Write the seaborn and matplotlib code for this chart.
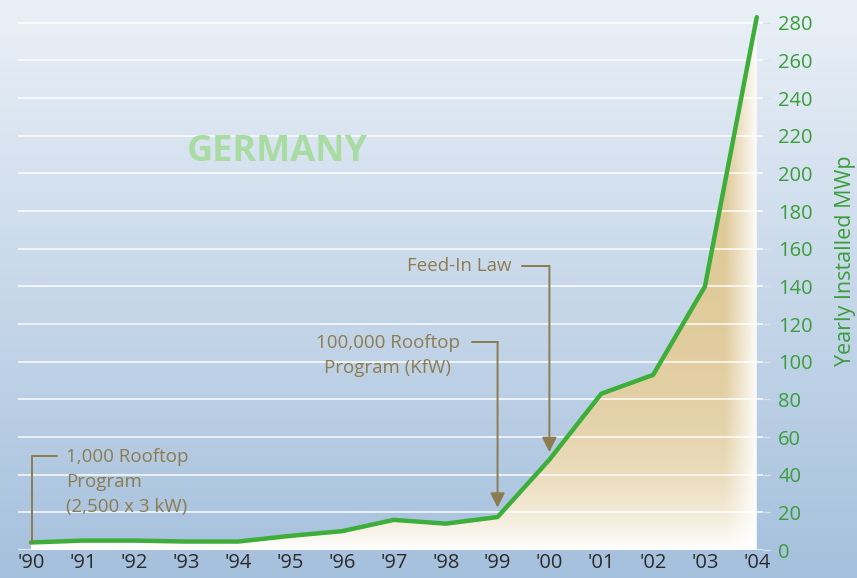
import numpy as np
import pandas as pd
import matplotlib
matplotlib.use("Agg")
import matplotlib.pyplot as plt
from matplotlib.colors import to_rgb
import seaborn as sns

# yearly installed PV capacity in Germany (MWp)
years = ["'90", "'91", "'92", "'93", "'94", "'95", "'96", "'97",
         "'98", "'99", "'00", "'01", "'02", "'03", "'04"]
installed_mwp = [4, 5, 5, 4.5, 4.5, 7.5, 10, 16, 14, 17.5, 48, 83, 93, 140, 283]
y_ticks = list(range(0, 281, 20))

GREEN = "#3dae3a"
LABEL_GREEN = "#3a9e3a"
BROWN = "#8c7c50"
TAN = "#dfc998"

sns.set_theme(style="white")
plt.rcParams["font.family"] = ["Open Sans", "DejaVu Sans"]

df = pd.DataFrame({"idx": np.arange(len(years)), "mwp": installed_mwp})

fig = plt.figure(figsize=(8.57, 5.78), dpi=100)

# background gradient over the whole figure
bg = fig.add_axes([0, 0, 1, 1], zorder=-10)
top, bot = np.array(to_rgb("#eaf0f7")), np.array(to_rgb("#a5c0dd"))
t = np.linspace(0, 1, 256)[:, None]
grad = top * (1 - t[..., None]) + bot * t[..., None]
bg.imshow(np.repeat(grad, 4, axis=1), aspect="auto", extent=[0, 1, 0, 1])
bg.axis("off")

ax = fig.add_axes([18 / 857, 28 / 578, 745 / 857, 546 / 578])
ax.patch.set_alpha(0)
ymax = 290
ax.set_xlim(-0.25, 14.12)
ax.set_ylim(0, ymax)

# gradient fill under the curve
poly = ax.fill_between(df.idx, df.mwp, 0, facecolor="none", edgecolor="none")
gx = np.linspace(0, 14, 500)
gy = np.linspace(0, ymax, 300)
X, Y = np.meshgrid(gx, gy)
wv = np.exp(-Y / 40)
wh = np.clip((X - 13.4) / 0.65, 0, 1)
w = 1 - (1 - wv) * (1 - wh)
img = np.array(to_rgb(TAN)) * (1 - w[..., None]) + w[..., None]
im = ax.imshow(img, extent=[0, 14, 0, ymax], origin="lower", aspect="auto", zorder=1)
im.set_clip_path(poly.get_paths()[0], transform=ax.transData)

sns.lineplot(data=df, x="idx", y="mwp", color=GREEN, lw=3.2, ax=ax, zorder=4)

for v in y_ticks:
    ax.axhline(v, color="white", lw=1.3, alpha=0.8, zorder=2)

ax.set_xticks(df.idx)
ax.set_xticklabels(years)
ax.set_yticks(y_ticks)
ax.yaxis.tick_right()
ax.tick_params(axis="x", length=0, pad=2, labelsize=14.5, labelcolor="#2b2b2b")
ax.tick_params(axis="y", right=True, length=5, width=1, color="#d8e0ea", pad=6,
               labelsize=14.5, labelcolor=LABEL_GREEN)
ax.set_xlabel("")
ax.set_ylabel("")
for s in ax.spines.values():
    s.set_visible(False)

fig.text(835 / 857, (578 - 366) / 578, "Yearly Installed MWp", rotation=90,
         ha="left", va="bottom", color=LABEL_GREEN, fontsize=15.5)

ax.text(4.76, 211.5, "GERMANY", ha="center", va="center", fontsize=26,
        fontweight="bold", color="#a9dca2", zorder=3)

# annotations
kw = dict(color=BROWN, fontsize=13.5, zorder=5, linespacing=1.5)
ax.text(0.68, 36, "1,000 Rooftop\nProgram\n(2,500 x 3 kW)", ha="left", va="center", **kw)
ax.plot([0.5, 0.02, 0.02], [50, 50, installed_mwp[0]], color=BROWN, lw=1.4, zorder=5)

ax.text(6.88, 103.5, "100,000 Rooftop\nProgram (KfW)", ha="center", va="center",
        multialignment="center", **kw)
ax.plot([8.5, 9], [110.5, 110.5], color=BROWN, lw=1.4, zorder=5)
ax.annotate("", xy=(9, installed_mwp[9] + 5), xytext=(9, 110.5),
            arrowprops=dict(arrowstyle="-|>", color=BROWN, lw=1.4, mutation_scale=22,
                            shrinkA=0, shrinkB=0), zorder=5)

ax.text(9.27, 151, "Feed-In Law", ha="right", va="center", **kw)
ax.plot([9.47, 10], [151, 151], color=BROWN, lw=1.4, zorder=5)
ax.annotate("", xy=(10, installed_mwp[10] + 4), xytext=(10, 151),
            arrowprops=dict(arrowstyle="-|>", color=BROWN, lw=1.4, mutation_scale=22,
                            shrinkA=0, shrinkB=0), zorder=5)

fig.savefig("out.png", dpi=100)
